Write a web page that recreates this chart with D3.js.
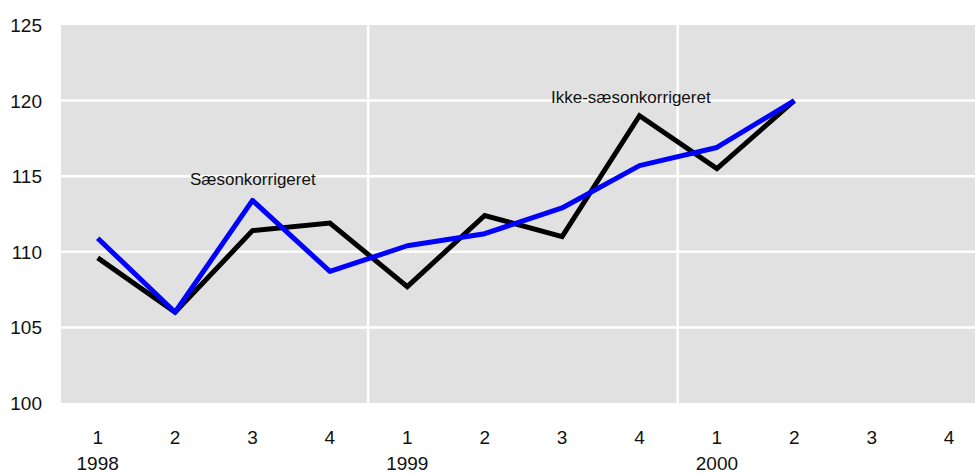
<!DOCTYPE html>
<html>
<head>
<meta charset="utf-8">
<script src="https://cdn.jsdelivr.net/npm/d3@7"></script>
<style>
  body { margin: 0; background: #fff; }
  svg text { font-family: "Liberation Sans", Arial, sans-serif; fill: #111; }
</style>
</head>
<body>
<div class="chart"></div>
<script>
// quarters 1998Q1 .. 2000Q4
const quarters = ["1", "2", "3", "4", "1", "2", "3", "4", "1", "2", "3", "4"];
const years = ["1998", "1999", "2000"];
const yTicks = [100, 105, 110, 115, 120, 125];

// ikke-saesonkorrigeret (black) and saesonkorrigeret (blue)
const ikkeSaeson = [109.6, 106.0, 111.4, 111.9, 107.7, 112.4, 111.0, 119.0, 115.5, 120.0];
const saeson = [110.9, 106.0, 113.4, 108.7, 110.4, 111.2, 112.9, 115.7, 116.9, 120.0];

const width = 975, height = 474;
const plot = { left: 61, top: 25, right: 975, bottom: 403 };

const svg = d3.select(".chart")
    .append("svg")
    .attr("width", width)
    .attr("height", height);

const x = d3.scaleBand()
    .domain(d3.range(quarters.length))
    .range([59, 59 + 77.4 * quarters.length]);

const y = d3.scaleLinear()
    .domain([100, 125])
    .range([plot.bottom, plot.top]);

svg.append("rect")
    .attr("x", plot.left)
    .attr("y", plot.top)
    .attr("width", plot.right - plot.left)
    .attr("height", plot.bottom - plot.top)
    .attr("fill", "#e1e1e1");

// horizontal grid
svg.append("g")
    .selectAll("line")
    .data(yTicks.slice(1, -1))
    .join("line")
    .attr("x1", plot.left)
    .attr("x2", plot.right)
    .attr("y1", d => y(d))
    .attr("y2", d => y(d))
    .attr("stroke", "#fff")
    .attr("stroke-width", 2.5);

// year separators
svg.append("g")
    .selectAll("line")
    .data([4, 8])
    .join("line")
    .attr("x1", d => x(d) - 0.5)
    .attr("x2", d => x(d) - 0.5)
    .attr("y1", plot.top)
    .attr("y2", plot.bottom)
    .attr("stroke", "#fff")
    .attr("stroke-width", 2.5);

// y labels
svg.append("g")
    .selectAll("text")
    .data(yTicks)
    .join("text")
    .attr("x", 42)
    .attr("y", d => y(d) + 7)
    .attr("text-anchor", "end")
    .attr("font-size", 19)
    .text(d => d);

// x labels
const cx = i => x(i) + x.bandwidth() / 2;
svg.append("g")
    .selectAll("text")
    .data(quarters)
    .join("text")
    .attr("x", (d, i) => cx(i))
    .attr("y", 444)
    .attr("text-anchor", "middle")
    .attr("font-size", 19)
    .text(d => d);

svg.append("g")
    .selectAll("text")
    .data(years)
    .join("text")
    .attr("x", (d, i) => cx(i * 4))
    .attr("y", 470)
    .attr("text-anchor", "middle")
    .attr("font-size", 19)
    .text(d => d);

const line = d3.line()
    .x((d, i) => cx(i))
    .y(d => y(d));

svg.append("path")
    .datum(ikkeSaeson)
    .attr("d", line)
    .attr("fill", "none")
    .attr("stroke", "#000")
    .attr("stroke-width", 5);

svg.append("path")
    .datum(saeson)
    .attr("d", line)
    .attr("fill", "none")
    .attr("stroke", "#0000ff")
    .attr("stroke-width", 5)
    .attr("stroke-linejoin", "round");

// annotations
svg.append("text")
    .attr("x", 190)
    .attr("y", 185)
    .attr("font-size", 17)
    .text("Sæsonkorrigeret");

svg.append("text")
    .attr("x", 551)
    .attr("y", 103)
    .attr("font-size", 17)
    .text("Ikke-sæsonkorrigeret");
</script>
</body>
</html>
